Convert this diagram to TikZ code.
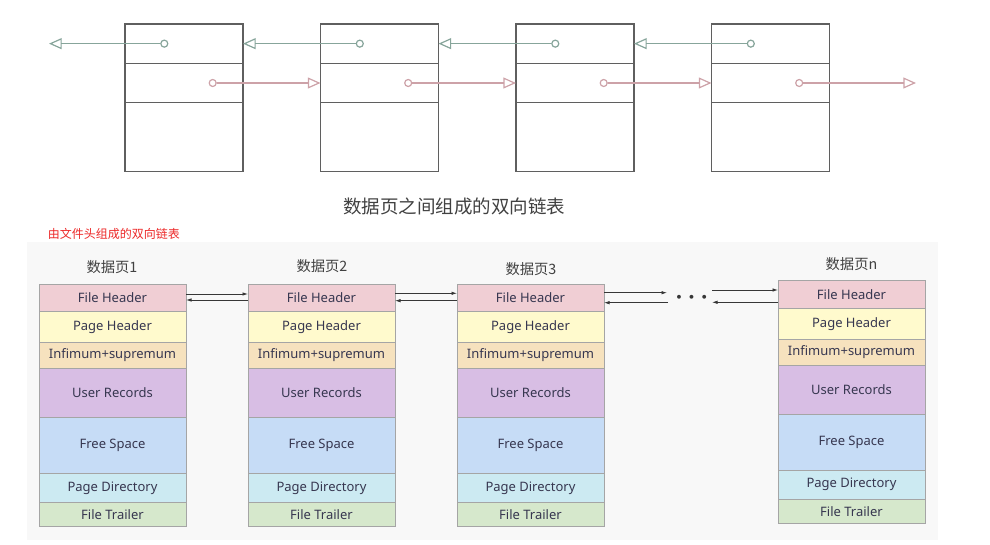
\documentclass[tikz,border=0pt]{standalone}
\usepackage{fontspec}
\setmainfont{Noto Sans}
\newfontfamily\cjk{Noto Sans CJK SC}
\usetikzlibrary{arrows.meta}
\definecolor{cFH}{RGB}{240,206,212}
\definecolor{cPH}{RGB}{255,250,205}
\definecolor{cIS}{RGB}{246,226,190}
\definecolor{cUR}{RGB}{216,190,228}
\definecolor{cFS}{RGB}{198,220,246}
\definecolor{cPD}{RGB}{204,234,242}
\definecolor{cFT}{RGB}{214,232,204}
\definecolor{cellborder}{RGB}{165,165,165}
\definecolor{celltext}{RGB}{55,55,80}
\definecolor{boxline}{RGB}{95,95,95}
\definecolor{gline}{RGB}{135,165,155}
\definecolor{pline}{RGB}{205,162,168}
\definecolor{panelbg}{RGB}{248,248,248}
\definecolor{darkarrow}{RGB}{55,55,55}
\definecolor{titlegray}{RGB}{65,65,65}
\definecolor{redtext}{RGB}{236,40,40}
\newcommand\mypagecol[3]{%
  \node[cell,fill=cFH,minimum height=27.7,anchor=north west] (#1fh) at (#2,#3) {File Header};
  \node[cell,fill=cPH,minimum height=30.6,anchor=north] (#1ph) at (#1fh.south) {Page Header};
  \node[cell,fill=cIS,minimum height=26.4,anchor=north] (#1is) at (#1ph.south) {Infimum+supremum};
  \node[cell,fill=cUR,minimum height=48.6,anchor=north] (#1ur) at (#1is.south) {User Records};
  \node[cell,fill=cFS,minimum height=56,anchor=north] (#1fs) at (#1ur.south) {Free Space};
  \node[cell,fill=cPD,minimum height=29.4,anchor=north] (#1pd) at (#1fs.south) {Page Directory};
  \node[cell,fill=cFT,minimum height=24,anchor=north] (#1ft) at (#1pd.south) {File Trailer};
}
\begin{document}
\begin{tikzpicture}[x=1pt,y=-1pt,
  tbox/.style={draw=boxline,line width=1.2pt,minimum width=118,inner sep=0,outer sep=0,anchor=north west},
  gdot/.style={circle,draw=gline,line width=1.2pt,fill=white,minimum size=7,inner sep=0},
  pdot/.style={circle,draw=pline,line width=1.2pt,fill=white,minimum size=7,inner sep=0},
  garrow/.style={draw=gline,line width=1.2pt,-{Triangle[open,length=12.7pt,width=11pt]}},
  parrow/.style={draw=pline,line width=1.2pt,-{Triangle[open,length=12.7pt,width=11pt]}},
  cell/.style={draw=cellborder,line width=0.8pt,minimum width=147,inner sep=0,outer sep=0,
    text=celltext,font=\fontsize{13}{15}\selectfont},
  plabel/.style={font=\cjk\fontsize{14.3}{16}\selectfont,text=titlegray},
  barrow/.style={draw=darkarrow,line width=0.8pt,-{Latex[length=5.5pt,width=3.5pt]}}]
\useasboundingbox (0,0) rectangle (990,545);
\fill[panelbg] (27,242) rectangle (938,540);
% top linked list
\foreach \i/\x in {1/125,2/320.5,3/516,4/711.5}{
  \node[tbox,minimum height=39.3] (ta\i) at (\x,24) {};
  \node[tbox,minimum height=39.4] (tb\i) at (\x,63.3) {};
  \node[tbox,minimum height=69] (tc\i) at (\x,102.7) {};
  \node[gdot] (g\i) at ([xshift=39.3pt]ta\i.west) {};
  \node[pdot] (p\i) at ([xshift=87.7pt]tb\i.west) {};
}
\coordinate (gend) at (49,43.65);
\coordinate (pend) at (916,83);
\draw[garrow] (g1) -- (gend);
\draw[garrow] (g2) -- (ta1.east);
\draw[garrow] (g3) -- (ta2.east);
\draw[garrow] (g4) -- (ta3.east);
\draw[parrow] (p1) -- (tb2.west);
\draw[parrow] (p2) -- (tb3.west);
\draw[parrow] (p3) -- (tb4.west);
\draw[parrow] (p4) -- (pend);
\node[font=\cjk\fontsize{18.5}{20}\selectfont,text=titlegray] (title) at (454,206) {数据页之间组成的双向链表};
\node[font=\cjk\fontsize{12}{14}\selectfont,text=redtext,anchor=west,inner sep=0] (red) at (47.7,234) {由文件头组成的双向链表};
% page columns
\mypagecol{c1}{39}{284}
\mypagecol{c2}{248}{284}
\mypagecol{c3}{457}{284}
\mypagecol{cn}{778}{280.7}
\node[plabel] (l1) at (112,266.7) {数据页1};
\node[plabel] (l2) at (322,266) {数据页2};
\node[plabel] (l3) at (531,269.3) {数据页3};
\node[plabel] (ln) at (851.5,264) {数据页n};
% links between file headers
\coordinate (a12u) at (200,294);
\coordinate (a12l) at (200,300);
\draw[barrow] (a12u -| c1fh.east) -- (a12u -| c2fh.west);
\draw[barrow] (a12l -| c2fh.west) -- (a12l -| c1fh.east);
\coordinate (a23u) at (420,293.3);
\coordinate (a23l) at (420,300.7);
\draw[barrow] (a23u -| c2fh.east) -- (a23u -| c3fh.west);
\draw[barrow] (a23l -| c3fh.west) -- (a23l -| c2fh.east);
\coordinate (du) at (667,292.7);
\coordinate (dl) at (668,302.7);
\draw[barrow] (du -| c3fh.east) -- (du);
\draw[barrow] (dl) -- (dl -| c3fh.east);
\node[text=darkarrow,font={\boldmath\fontsize{30}{30}\selectfont},inner sep=0] (dots) at (691.7,297.5) {$\cdots$};
\coordinate (eu) at (712,290);
\coordinate (el) at (712,302.3);
\draw[barrow] (eu) -- (eu -| cnfh.west);
\draw[barrow] (el -| cnfh.west) -- (el);
\end{tikzpicture}
\end{document}
